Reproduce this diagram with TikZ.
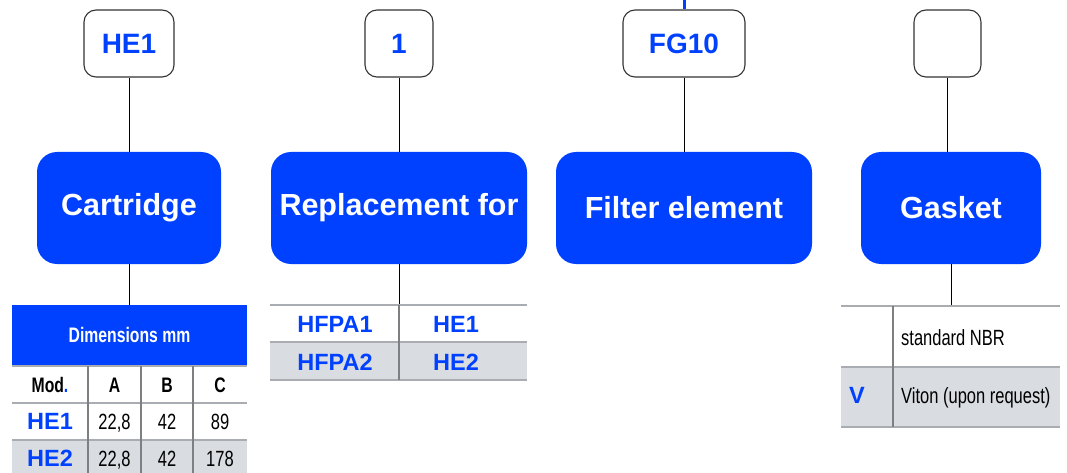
\documentclass[tikz,border=0pt]{standalone}
\usepackage{fontspec}
\setmainfont{Liberation Sans}
\newfontfamily\narrowfont[FakeStretch=0.75]{Liberation Sans}
\usepackage{xcolor}
\usepackage{tikz}
\usetikzlibrary{positioning}
\definecolor{brand}{HTML}{0041FF}
\definecolor{rowgray}{HTML}{D9DCE0}
\definecolor{rule}{HTML}{A9ACB0}
\definecolor{divider}{HTML}{7D7F82}
\definecolor{edge}{HTML}{333333}

\begin{document}
\begin{tikzpicture}[x=1pt,y=-1pt,
  code/.style={draw=edge,line width=1.1pt,rounded corners=12pt,fill=white,
    minimum height=67pt,inner sep=0pt,text=brand,
    font=\fontsize{28}{30}\selectfont\bfseries},
  part/.style={fill=brand,rounded corners=20pt,minimum height=112pt,
    inner sep=0pt,text=white,font=\fontsize{30.5}{32}\selectfont\bfseries},
  link/.style={line width=.9pt},
  hrule/.style={draw=rule,line width=1.8pt},
  vrule/.style={draw=divider,line width=2.4pt},
  cell/.style={anchor=base,inner sep=0pt,font=\narrowfont\fontsize{22}{24}\selectfont},
  hcell/.style={cell,font=\narrowfont\fontsize{21}{23}\selectfont\bfseries},
  mcell/.style={anchor=base,inner sep=0pt,text=brand,
    font=\fontsize{23.5}{25}\selectfont\bfseries}
]
\useasboundingbox (0,0) rectangle (1067,473);

% code boxes
\node[code,minimum width=90pt] (C1) at (129,43.5) {HE1};
\node[code,minimum width=68pt] (C2) at (399,43.5) {1};
\node[code,minimum width=122pt] (C3) at (684,43.5) {FG10};
\node[code,minimum width=67pt] (C4) at (947.5,43.5) {};
\coordinate (stub) at (684,0);
\draw[brand,line width=3pt] (stub)--(C3.north);

% part boxes
\node[part,minimum width=184pt] (P1) at (129,208) {Cartridge};
\node[part,minimum width=256pt] (P2) at (399,208) {Replacement for};
\node[part,minimum width=256pt] (P3) at (684,208) {Filter element};
\node[part,minimum width=180pt] (P4) at (951,208) {Gasket};

\draw[link] (C1)--(P1);
\draw[link] (C2)--(P2);
\draw[link] (C3)--(P3);
\draw[link] (C4.south)--(C4.south |- P4.north);

% cartridge table
\fill[brand] (12,305) rectangle (247,365);
\fill[rowgray] (12,440) rectangle (247,473);
\coordinate (T1) at (129,305);
\draw[link] (P1)--(T1);
\node[hcell,text=white] (dim) at (129.5,342) {Dimensions mm};
\foreach \y in {366,403,440} \draw[hrule] (12,\y)--(247,\y);
\foreach \x in {88,141,193} \draw[vrule] (\x,366)--(\x,473);
\node[hcell] (mod) at (50,392) {Mod\textcolor{brand}{.}};
\node[hcell] (colA) at (114.5,392) {A};
\node[hcell] (colB) at (167,392) {B};
\node[hcell] (colC) at (220,392) {C};
\node[mcell] (m1) at (50,429) {HE1};
\node[cell] (a1) at (114.5,429) {22,8};
\node[cell] (b1) at (167,429) {42};
\node[cell] (c1) at (220,429) {89};
\node[mcell] (m2) at (50,466) {HE2};
\node[cell] (a2) at (114.5,466) {22,8};
\node[cell] (b2) at (167,466) {42};
\node[cell] (c2) at (220,466) {178};

% replacement table
\fill[rowgray] (270,342) rectangle (527,380);
\coordinate (T2) at (399,305);
\draw[link] (P2)--(T2);
\foreach \y in {305,342,380} \draw[hrule] (270,\y)--(527,\y);
\draw[vrule] (399,305)--(399,380);
\node[mcell] (r1) at (335,332) {HFPA1};
\node[mcell] (e1) at (456,332) {HE1};
\node[mcell] (r2) at (335,370) {HFPA2};
\node[mcell] (e2) at (456,370) {HE2};

% gasket table
\fill[rowgray] (841,367) rectangle (1060,427);
\coordinate (T4) at (951,306);
\draw[link] (P4)--(T4);
\foreach \y in {306,367,427} \draw[hrule] (841,\y)--(1060,\y);
\draw[vrule] (893,306)--(893,427);
\node[cell,anchor=base west] (g1) at (901,345) {standard NBR};
\node[mcell] (gv) at (857,403) {V};
\node[cell,anchor=base west] (g2) at (901,403) {Viton (upon request)};
\end{tikzpicture}
\end{document}
